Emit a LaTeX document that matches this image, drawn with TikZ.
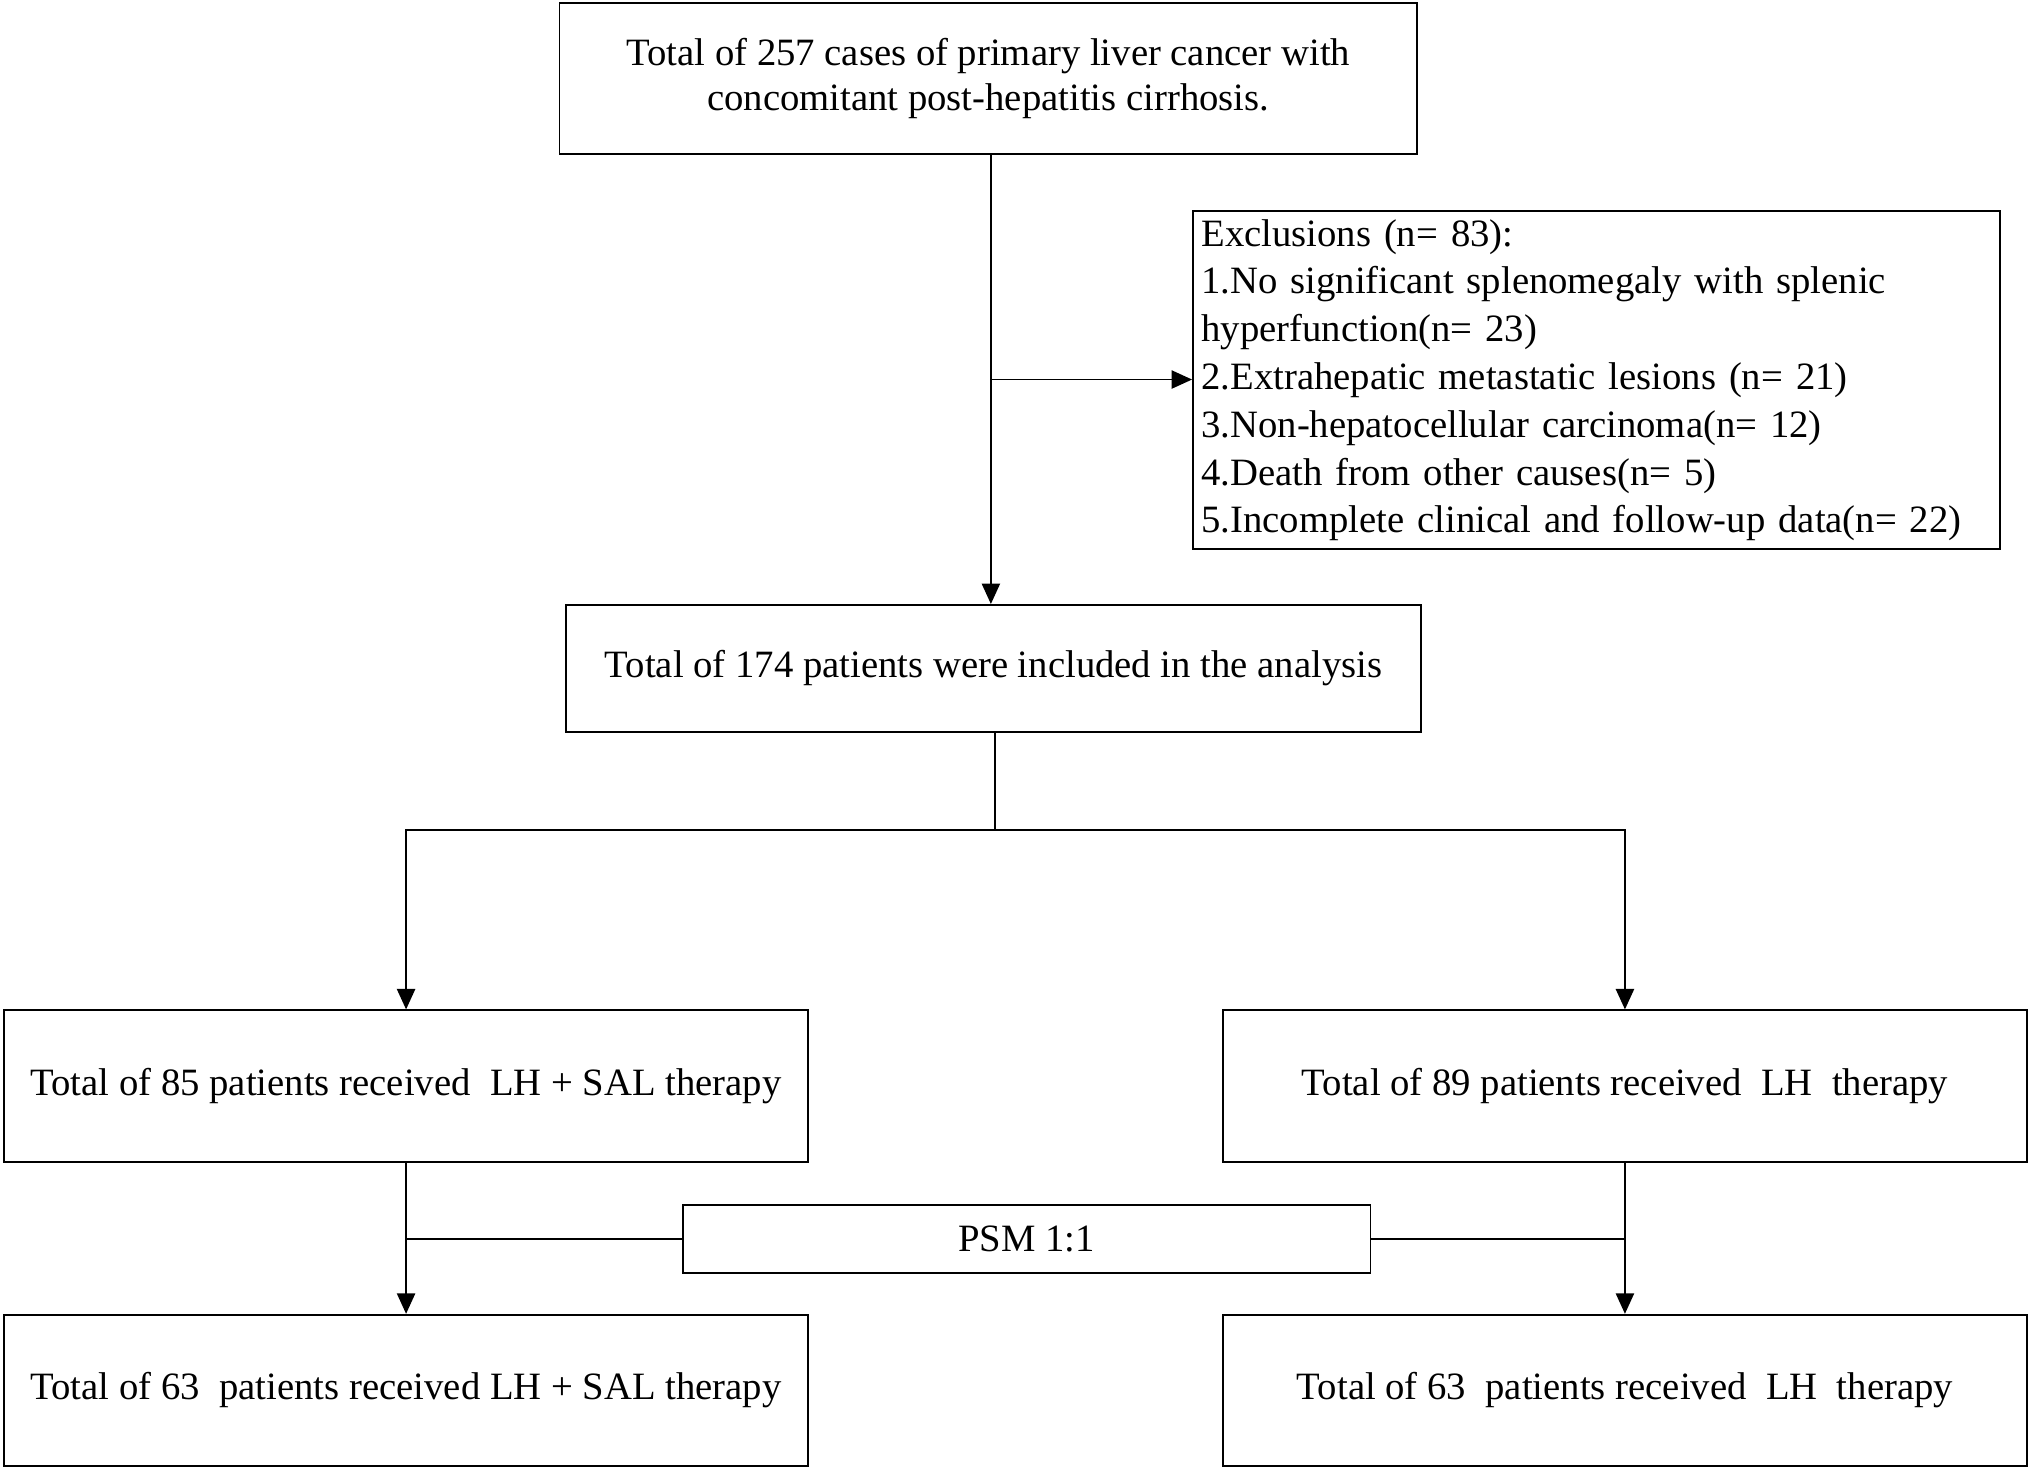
\documentclass[tikz,border=0pt]{standalone}
\usepackage{fontspec}
\setmainfont{Liberation Serif}
\usetikzlibrary{arrows.meta}
\begin{document}
\begin{tikzpicture}[
    box/.style={draw, thick, align=center, inner sep=2pt, font=\fontsize{17}{20}\selectfont},
    arr/.style={-{Triangle[length=9pt,width=8pt]}, thick}]
    \useasboundingbox (0,0) rectangle (31.36,-22.68);
    % Boxes
    \node[box, minimum width=13.24cm, minimum height=2.34cm] (total) at (15.26,-1.21) {Total of 257 cases of primary liver cancer with\\concomitant post-hepatitis cirrhosis.};
    \node[box, minimum width=12.46cm, minimum height=5.22cm, align=left, text width=12.2cm, font=\fontsize{17}{21}\selectfont] (excl) at (24.65,-5.87) {Exclusions (n= 83):\\1.No significant splenomegaly with splenic\\hyperfunction(n= 23)\\2.Extrahepatic metastatic lesions (n= 21)\\3.Non-hepatocellular carcinoma(n= 12)\\4.Death from other causes(n= 5)\\5.Incomplete clinical and follow-up data(n= 22)};
    \node[box, minimum width=13.2cm, minimum height=1.96cm] (incl) at (15.34,-10.32) {Total of 174 patients were included in the analysis};
    \node[box, minimum width=12.42cm, minimum height=2.34cm] (salA) at (6.27,-16.77) {Total of 85 patients received\enspace LH + SAL therapy};
    \node[box, minimum width=12.42cm, minimum height=2.34cm] (lhA) at (25.09,-16.77) {Total of 89 patients received\enspace LH\enspace therapy};
    \node[box, minimum width=10.62cm, minimum height=1.06cm] (psm) at (15.85,-19.13) {PSM 1:1};
    \node[box, minimum width=12.42cm, minimum height=2.34cm] (salB) at (6.27,-21.47) {Total of 63\enspace patients received LH + SAL therapy};
    \node[box, minimum width=12.42cm, minimum height=2.34cm] (lhB) at (25.09,-21.47) {Total of 63\enspace patients received\enspace LH\enspace therapy};
    % Connectors
    \coordinate (br) at (15.30,-5.86);
    \draw[arr] (total.south -| br) -- (incl.north -| br);
    \draw[arr] (br) -- (excl.west |- br);
    \coordinate (split) at (15.36,-12.82);
    \draw[thick] (incl.south -| split) -- (split);
    \draw[arr] (split) -| (salA.north);
    \draw[arr] (split) -| (lhA.north);
    \draw[arr] (salA) -- (salB);
    \draw[arr] (lhA) -- (lhB);
    \draw[thick] (psm.west) -- (psm.west -| salA);
    \draw[thick] (psm.east) -- (psm.east -| lhA);
\end{tikzpicture}
\end{document}
